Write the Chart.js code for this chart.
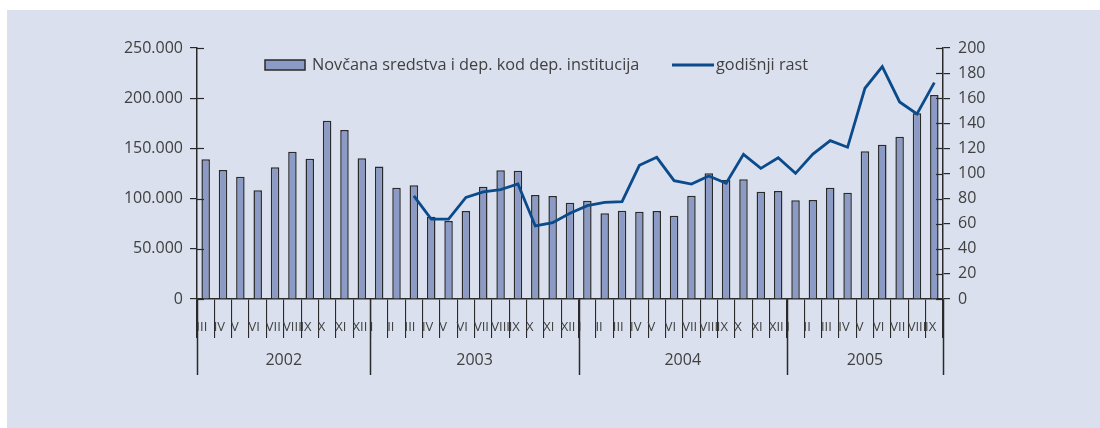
<!DOCTYPE html>
<html>
<head>
<meta charset="utf-8">
<script src="https://cdn.jsdelivr.net/npm/chart.js@4.4.1/dist/chart.umd.min.js"></script>
<style>
    html, body { margin: 0; padding: 0; background: #fff; }
    #panel { position: absolute; left: 7px; top: 10px; width: 1093px; height: 418px; background: #dae0ed; }
    #chart { position: absolute; left: 0; top: 0; }
</style>
</head>
<body>
<div id="panel"></div>
<canvas id="chart" width="1100" height="428"></canvas>
<script>
// 月 (2002 III – 2005 IX)
const months = [
    'III', 'IV', 'V', 'VI', 'VII', 'VIII', 'IX', 'X', 'XI', 'XII',
    'I', 'II', 'III', 'IV', 'V', 'VI', 'VII', 'VIII', 'IX', 'X', 'XI', 'XII',
    'I', 'II', 'III', 'IV', 'V', 'VI', 'VII', 'VIII', 'IX', 'X', 'XI', 'XII',
    'I', 'II', 'III', 'IV', 'V', 'VI', 'VII', 'VIII', 'IX'
];
const years = ['2002', '2003', '2004', '2005'];
const monthsPerYear = [10, 12, 12, 9];

const deposits = [
    139100, 128500, 121800, 108300, 131200, 146700, 139800, 177600, 168300, 140100,
    132000, 110900, 113200, 82000, 77700, 87600, 111900, 128200, 127800, 103600, 102600, 95900,
    97800, 85400, 88000, 87000, 87600, 83000, 102900, 125200, 118500, 119200, 106900, 107600,
    98300, 98600, 110900, 105900, 147100, 153700, 161700, 185000, 203200
];
const growth = [
    null, null, null, null, null, null, null, null, null, null,
    null, null, 82.1, 63.7, 63.7, 81.0, 85.3, 87.1, 91.6, 58.2, 60.8, 68.3,
    74.4, 77.0, 77.6, 106.5, 112.9, 94.3, 91.6, 98.0, 92.2, 115.3, 104.1, 112.6,
    100.1, 115.5, 126.2, 120.9, 167.9, 185.1, 157.0, 147.4, 172.4
];

const depositLabel = 'Novčana sredstva i dep. kod dep. institucija';
const growthLabel = 'godišnji rast';

const textColor = '#404040';
const axisColor = '#2a2a2a';
const fontFamily = '"Open Sans", sans-serif';

function formatThousands(v) {
    return String(v).replace(/\B(?=(\d{3})+(?!\d))/g, '.');
}

// 年の区切り線とラベル、内側の目盛り、凡例
const extrasPlugin = {
    id: 'extras',
    afterDraw(chart) {
        const ctx = chart.ctx;
        const x = chart.scales.x;
        const yL = chart.scales.y;
        const yR = chart.scales.y1;
        const area = chart.chartArea;
        ctx.save();
        ctx.strokeStyle = axisColor;
        ctx.lineWidth = 1.2;

        // 内側の目盛り
        yL.ticks.forEach((t, i) => {
            const py = Math.round(yL.getPixelForTick(i)) + 0.5;
            ctx.beginPath();
            ctx.moveTo(area.left, py);
            ctx.lineTo(area.left + 7, py);
            ctx.stroke();
        });
        yR.ticks.forEach((t, i) => {
            const py = Math.round(yR.getPixelForTick(i)) + 0.5;
            ctx.beginPath();
            ctx.moveTo(area.right - 7, py);
            ctx.lineTo(area.right, py);
            ctx.stroke();
        });

        // 年
        const half = (x.getPixelForValue(1) - x.getPixelForValue(0)) / 2;
        let idx = 0;
        ctx.font = '16px ' + fontFamily;
        ctx.fillStyle = textColor;
        ctx.textAlign = 'center';
        ctx.textBaseline = 'middle';
        const edges = [x.getPixelForValue(0) - half];
        years.forEach((yr, i) => {
            const start = x.getPixelForValue(idx) - half;
            idx += monthsPerYear[i];
            const end = x.getPixelForValue(idx - 1) + half;
            edges.push(end);
            ctx.fillText(yr, (start + end) / 2, 360);
        });
        ctx.lineWidth = 1.5;
        edges.forEach(ex => {
            const px = Math.round(ex) + 0.5;
            ctx.beginPath();
            ctx.moveTo(px, area.bottom);
            ctx.lineTo(px, 375);
            ctx.stroke();
        });

        // 凡例
        const ly = 65;
        ctx.fillStyle = '#8b9bc6';
        ctx.fillRect(265, ly - 5, 40, 10);
        ctx.strokeStyle = axisColor;
        ctx.lineWidth = 1.5;
        ctx.strokeRect(265, ly - 5, 40, 10);
        ctx.font = '16.3px ' + fontFamily;
        ctx.fillStyle = textColor;
        ctx.textAlign = 'left';
        ctx.fillText(depositLabel, 312, ly);
        ctx.strokeStyle = '#0b4a8b';
        ctx.lineWidth = 3;
        ctx.beginPath();
        ctx.moveTo(672, ly);
        ctx.lineTo(714, ly);
        ctx.stroke();
        ctx.fillText(growthLabel, 716, ly);
        ctx.restore();
    }
};

const ctx = document.getElementById('chart').getContext('2d');
const chart = new Chart(ctx, {
    type: 'bar',
    data: {
        labels: months,
        datasets: [{
            type: 'line',
            label: growthLabel,
            data: growth,
            yAxisID: 'y1',
            borderColor: '#0b4a8b',
            borderWidth: 2.8,
            pointRadius: 0,
            tension: 0,
            fill: false,
            order: 0
        }, {
            type: 'bar',
            label: depositLabel,
            data: deposits,
            yAxisID: 'y',
            backgroundColor: '#8b9bc6',
            borderColor: axisColor,
            borderWidth: 1.5,
            borderSkipped: 'bottom',
            categoryPercentage: 1,
            barPercentage: 0.49,
            order: 1
        }]
    },
    options: {
        responsive: false,
        animation: false,
        layout: { padding: { top: 48, left: 0, right: 0, bottom: 0 } },
        plugins: {
            legend: { display: false },
            tooltip: { enabled: false }
        },
        scales: {
            x: {
                offset: true,
                grid: {
                    offset: true,
                    drawOnChartArea: false,
                    drawTicks: true,
                    tickLength: 39,
                    color: axisColor,
                    lineWidth: 1.1
                },
                border: { display: true, color: axisColor, width: 1.5 },
                ticks: {
                    autoSkip: false,
                    maxRotation: 0,
                    minRotation: 0,
                    align: 'start',
                    labelOffset: -9.3,
                    padding: -19,
                    color: textColor,
                    font: { family: fontFamily, size: 13 }
                },
                afterFit(scale) {
                    scale.height = 129;
                    scale.paddingLeft = 0;
                    scale.paddingRight = 0;
                }
            },
            y: {
                position: 'left',
                min: 0,
                max: 250000,
                grid: { drawOnChartArea: false, tickLength: 7, color: axisColor, lineWidth: 1.2 },
                border: { display: true, color: axisColor, width: 1.5 },
                ticks: {
                    stepSize: 50000,
                    padding: 7,
                    color: textColor,
                    font: { family: fontFamily, size: 16 },
                    callback: v => formatThousands(v)
                },
                afterFit(scale) {
                    scale.width = 197;
                    scale.paddingTop = 0;
                    scale.paddingBottom = 0;
                }
            },
            y1: {
                position: 'right',
                min: 0,
                max: 200,
                grid: { drawOnChartArea: false, tickLength: 7, color: axisColor, lineWidth: 1.2 },
                border: { display: true, color: axisColor, width: 1.5 },
                ticks: {
                    stepSize: 20,
                    padding: 8,
                    color: textColor,
                    font: { family: fontFamily, size: 16 }
                },
                afterFit(scale) {
                    scale.width = 157;
                    scale.paddingTop = 0;
                    scale.paddingBottom = 0;
                }
            }
        }
    },
    plugins: [extrasPlugin]
});
</script>
</body>
</html>
